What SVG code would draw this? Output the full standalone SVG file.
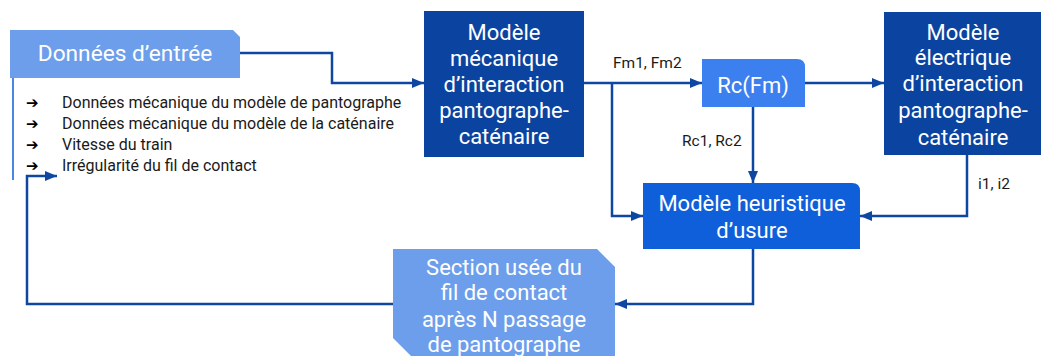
<svg xmlns="http://www.w3.org/2000/svg" width="1043" height="356" viewBox="0 0 1043 356">
<style>
  .box { font-family: Roboto, "Liberation Sans", sans-serif; font-size: 22px; fill: #ffffff; text-anchor: middle; }
  .lbl { font-family: Roboto, "Liberation Sans", sans-serif; font-size: 15.5px; fill: #1a1a1a; }
  .bul { font-family: Roboto, "Liberation Sans", sans-serif; font-size: 16px; fill: #1a1a1a; }
  .arr { font-family: "DejaVu Sans", sans-serif; font-size: 15px; font-weight: bold; fill: #000000; }
  .conn { fill: none; stroke: #0d47a1; stroke-width: 2.5; }
</style>
<defs>
  <marker id="ah" viewBox="0 0 12 10" refX="12" refY="5" markerWidth="12" markerHeight="10" markerUnits="userSpaceOnUse" orient="auto">
    <path d="M0,0 L12,5 L0,10 Z" fill="#0d47a1"/>
  </marker>
</defs>

<g id="donnees">
  <path d="M10,30 H233 L240,37 V78 H10 Z" fill="#6d9eeb"/>
  <line x1="13" y1="78" x2="13" y2="180" stroke="#4a86e8" stroke-width="2"/>
  <text class="box" x="125" y="61" style="font-size:22.7px">Données d’entrée</text>
  <text class="arr" x="26" y="108">➔</text>
  <text class="arr" x="26" y="129">➔</text>
  <text class="arr" x="26" y="150">➔</text>
  <text class="arr" x="26" y="171">➔</text>
  <text class="bul" x="62" y="108">Données mécanique du modèle de pantographe</text>
  <text class="bul" x="62" y="129">Données mécanique du modèle de la caténaire</text>
  <text class="bul" x="62" y="150">Vitesse du train</text>
  <text class="bul" x="62" y="171">Irrégularité du fil de contact</text>
</g>

<g id="mecanique">
  <rect x="424" y="11" width="160" height="146" fill="#0b44a0"/>
  <text class="box" x="504" y="40">Modèle</text>
  <text class="box" x="504" y="66">mécanique</text>
  <text class="box" x="504" y="92">d’interaction</text>
  <text class="box" x="504" y="118">pantographe-</text>
  <text class="box" x="504" y="144">caténaire</text>
</g>

<g id="rcfm">
  <path d="M702,59 H797 Q805,59 805,67 V107 H702 Z" fill="#3c80ef"/>
  <text class="box" x="753" y="93">Rc(Fm)</text>
</g>

<g id="electrique">
  <rect x="884" y="12" width="157" height="143" fill="#0b44a0"/>
  <text class="box" x="963" y="40">Modèle</text>
  <text class="box" x="963" y="65">électrique</text>
  <text class="box" x="963" y="91">d’interaction</text>
  <text class="box" x="963" y="118">pantographe-</text>
  <text class="box" x="963" y="145">caténaire</text>
</g>

<g id="heuristique">
  <path d="M643,183 H852 Q860,183 860,191 V249 H643 Z" fill="#0f5fdb"/>
  <text class="box" x="752" y="211">Modèle heuristique</text>
  <text class="box" x="752" y="238">d’usure</text>
</g>

<g id="section">
  <path d="M393,249 H597 L615,267 V356 H411 L393,338 Z" fill="#6d9eeb"/>
  <text class="box" x="504" y="275">Section usée du</text>
  <text class="box" x="504" y="300">fil de contact</text>
  <text class="box" x="504" y="327">après N passage</text>
  <text class="box" x="504" y="352">de pantographe</text>
</g>

<g id="connectors">
  <path class="conn" d="M240,53 H332 V83 H424" marker-end="url(#ah)"/>
  <path class="conn" d="M584,83 H702" marker-end="url(#ah)"/>
  <path class="conn" d="M612,83 V216 H643" marker-end="url(#ah)"/>
  <path class="conn" d="M805,83 H884" marker-end="url(#ah)"/>
  <path class="conn" d="M753,107 V183" marker-end="url(#ah)"/>
  <path class="conn" d="M967,155 V216 H860" marker-end="url(#ah)"/>
  <path class="conn" d="M753,249 V304 H615" marker-end="url(#ah)"/>
  <path class="conn" d="M393,304 H27 V176 H57" marker-end="url(#ah)"/>
  <text class="lbl" x="613" y="68">Fm1, Fm2</text>
  <text class="lbl" x="682" y="146">Rc1, Rc2</text>
  <text class="lbl" x="978" y="189">i1, i2</text>
</g>
</svg>
